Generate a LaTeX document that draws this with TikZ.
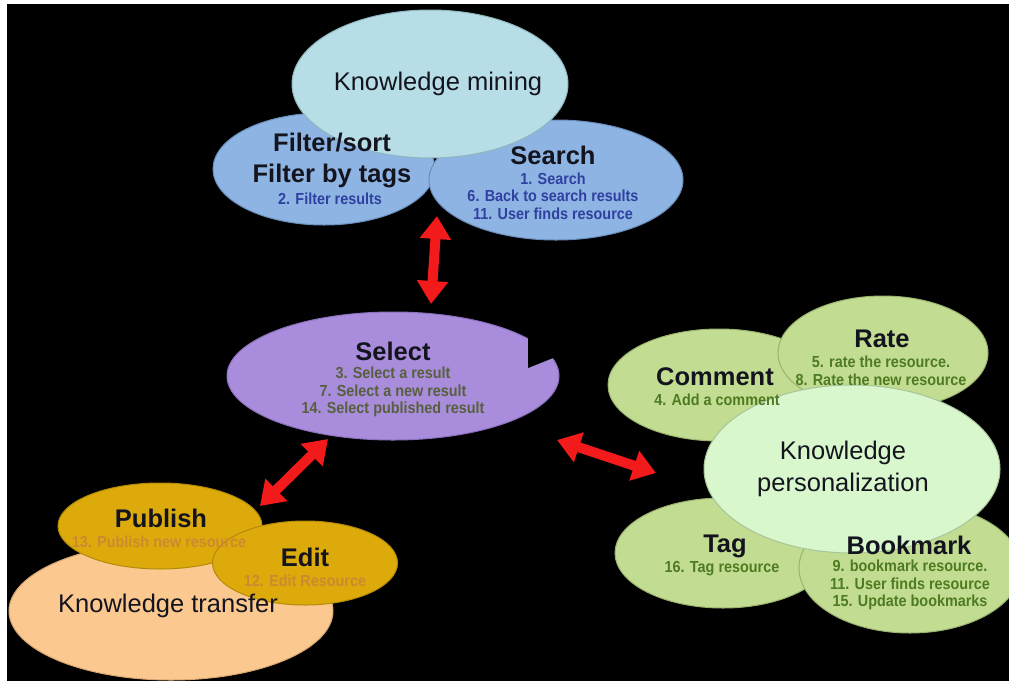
\documentclass[tikz,border=0pt]{standalone}
\usepackage{fontspec}
\setmainfont{Liberation Sans}
\newfontfamily\narrowfont[FakeStretch=0.9]{Liberation Sans}
\usepackage{tikz}
\usetikzlibrary{shapes.geometric,arrows.meta,positioning}
\definecolor{MineFill}{HTML}{B7DEE6}
\definecolor{MineLine}{HTML}{8FB5BE}
\definecolor{BlueFill}{HTML}{8DB4E2}
\definecolor{BlueLine}{HTML}{6A8DBA}
\definecolor{SelFill}{HTML}{A98CDB}
\definecolor{SelLine}{HTML}{8A70BA}
\definecolor{GreenFill}{HTML}{C2DD92}
\definecolor{GreenLine}{HTML}{9BB26F}
\definecolor{PersFill}{HTML}{D8F7CC}
\definecolor{PersLine}{HTML}{A8C49A}
\definecolor{GoldFill}{HTML}{DDAA0C}
\definecolor{GoldLine}{HTML}{B48A08}
\definecolor{PeachFill}{HTML}{FBC88F}
\definecolor{PeachLine}{HTML}{D6A570}
\definecolor{TitleInk}{HTML}{14141E}
\definecolor{SubBlue}{HTML}{3040A0}
\definecolor{SubPurple}{HTML}{56603E}
\definecolor{SubGreen}{HTML}{4E7B22}
\definecolor{SubGold}{HTML}{C98A30}
\definecolor{ArrowRed}{HTML}{F21A1A}
\tikzset{
  EL/.style={ellipse,inner sep=0pt,line width=1pt},
  eM/.style={EL,fill=MineFill, draw=MineLine},
  eB/.style={EL,fill=BlueFill, draw=BlueLine},
  eP/.style={EL,fill=SelFill,  draw=SelLine},
  eG/.style={EL,fill=GreenFill,draw=GreenLine},
  eL/.style={EL,fill=PersFill, draw=PersLine},
  eY/.style={EL,fill=GoldFill, draw=GoldLine},
  eO/.style={EL,fill=PeachFill,draw=PeachLine},
  TT/.style={font=\fontsize{25.5}{31}\selectfont\bfseries,text=TitleInk,align=center,inner sep=0pt},
  KN/.style={font=\fontsize{25.5}{32}\selectfont,text=TitleInk,align=center,inner sep=0pt},
  ST/.style={font={\narrowfont\bfseries\fontsize{16}{17.5}\selectfont},align=center,inner sep=0pt},
  sB/.style={ST,text=SubBlue},
  sP/.style={ST,text=SubPurple},
  sG/.style={ST,text=SubGreen},
  sY/.style={ST,text=SubGold},
  dbl/.style={{Triangle[length=23pt,width=30pt]}-{Triangle[length=23pt,width=30pt]},
              line width=10pt,draw=ArrowRed}
}
\begin{document}
\begin{tikzpicture}[x=1pt,y=-1pt]
  \useasboundingbox (0,0) rectangle (1009,681);
  \fill[white] (0,0) rectangle (1009,681);
  \fill[black] (7,4) rectangle (1009,681);

  % knowledge mining
  \node[eB,minimum width=222pt,minimum height=112pt] (filter) at (324,169) {};
  \node[eB,minimum width=254pt,minimum height=120pt] (search) at (556,180) {};
  \node[eM,minimum width=276pt,minimum height=148pt] (mining) at (430,84) {};

  % select
  \node[eP,minimum width=332pt,minimum height=128pt] (select) at (393,376) {};
  \fill[black] (528,330) -- (528,368) -- (553,358) -- (575,330) -- cycle;

  % knowledge personalization
  \node[eG,minimum width=222pt,minimum height=112pt] (comment) at (719,385) {};
  \node[eG,minimum width=210pt,minimum height=114pt] (rate) at (883,353) {};
  \node[eG,minimum width=216pt,minimum height=110pt] (tag) at (723,553) {};
  \node[eG,minimum width=222pt,minimum height=130pt] (bookmark) at (910,568) {};
  \node[eL,minimum width=296pt,minimum height=168pt] (person) at (852,469) {};

  % knowledge transfer
  \node[eO,minimum width=324pt,minimum height=138pt] (transfer) at (171,611) {};
  \node[eY,minimum width=204pt,minimum height=86pt] (publish) at (160,526) {};
  \node[eY,minimum width=185pt,minimum height=84pt] (edit) at (305,563) {};

  % texts
  \node[KN] (miningT) at (438,84) {Knowledge mining};
  \node[TT] (filterT) at (332,160) {Filter/sort\\Filter by tags};
  \node[sB] (filterS) at (330,199) {2. Filter results};
  \node[TT] (searchT) at (553,155) {Search};
  \node[sB] (searchS) at (553,196) {1. Search\\6. Back to search results\\11. User finds resource};
  \node[TT] (selectT) at (393,351) {Select};
  \node[sP] (selectS) at (393,392) {3. Select a result\\7. Select a new result\\14. Select published result};
  \node[TT] (commentT) at (715,377) {Comment};
  \node[sG] (commentS) at (717,400) {4. Add a comment};
  \node[TT] (rateT) at (882,339) {Rate};
  \node[sG] (rateS) at (881,371) {5. rate the resource.\\8. Rate the new resource};
  \node[KN] (personT) at (843,469) {Knowledge\\personalization};
  \node[TT] (tagT) at (725,546) {Tag};
  \node[sG] (tagS) at (722,569) {16. Tag resource};
  \node[TT] (bookmarkT) at (909,545) {Bookmark};
  \node[sG] (bookmarkS) at (910,585) {9. bookmark resource.\\11. User finds resource\\15. Update bookmarks};
  \node[TT] (publishT) at (161,518) {Publish};
  \node[sY] (publishS) at (159,542) {13. Publish new resource};
  \node[TT] (editT) at (305,557) {Edit};
  \node[sY] (editS) at (305,581) {12. Edit Resource};
  \node[KN] (transferT) at (168,606) {Knowledge transfer};

  % arrows
  \coordinate (mineEnd) at (437,216);
  \coordinate (selTop) at (431,304);
  \coordinate (selLeft) at (328,439);
  \coordinate (pubEnd) at (260,506);
  \coordinate (selRight) at (557,440);
  \coordinate (persEnd) at (656,473);
  \draw[dbl] (mineEnd) -- (selTop);
  \draw[dbl] (selLeft) -- (pubEnd);
  \draw[dbl] (selRight) -- (persEnd);
\end{tikzpicture}
\end{document}
